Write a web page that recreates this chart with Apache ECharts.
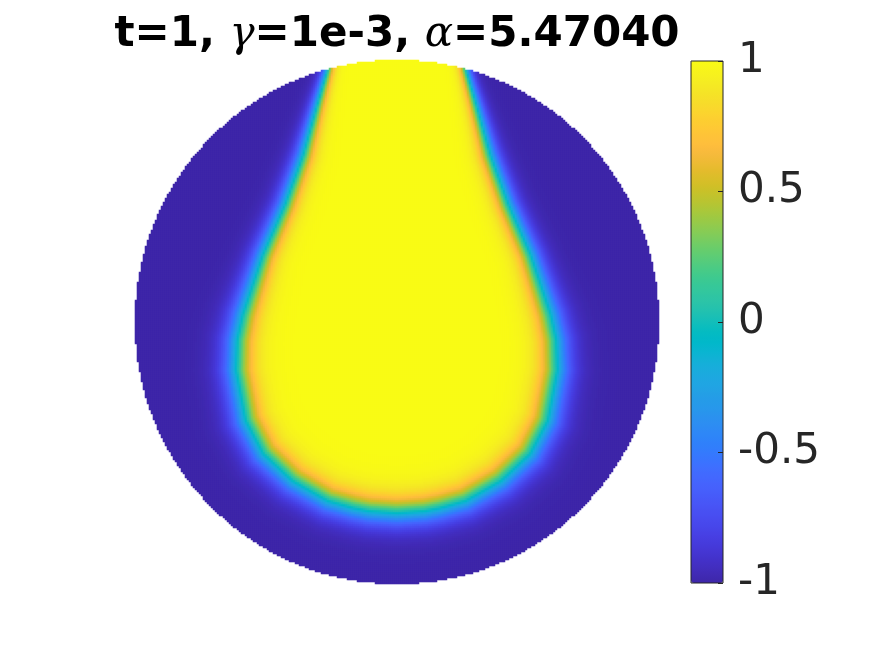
<!DOCTYPE html>
<html><head><meta charset="utf-8">
<script src="https://cdn.jsdelivr.net/npm/echarts@6/dist/echarts.min.js"></script>
<style>html,body{margin:0;padding:0;background:#fff}#c{width:875px;height:656px}</style>
</head><body><div id="c"></div>
<script>
// Phase-field interface (value 0 contour), right half, in unit-disk coordinates
const contourY         = [1.076, 1.000, 0.962, 0.828, 0.637, 0.447, 0.256, 0.027, -0.069, -0.183, -0.374, -0.500, -0.603, -0.679, -0.706, -0.718, -0.725];
const contourHalfWidth = [0.244, 0.256, 0.263, 0.302, 0.355, 0.424, 0.508, 0.584, 0.605, 0.609, 0.573, 0.506, 0.395, 0.261, 0.164, 0.105, 0.000];
// diffuse-interface thickness at each contour level
const interfaceWidth   = [0.023, 0.024, 0.025, 0.032, 0.042, 0.046, 0.050, 0.060, 0.063, 0.065, 0.066, 0.066, 0.065, 0.064, 0.064, 0.064, 0.064];
const valueMin = -1, valueMax = 1;
const colorbarTickStep = 0.5;
const gridCells = 262; // heatmap resolution across the disk diameter

// parula(64) colormap
const parula = [[0.2422,0.1504,0.6603],[0.2504,0.1650,0.7076],[0.2578,0.1818,0.7511],[0.2647,0.1978,0.7952],[0.2706,0.2147,0.8364],[0.2751,0.2342,0.8710],[0.2783,0.2559,0.8991],[0.2803,0.2782,0.9221],[0.2813,0.3006,0.9414],[0.2810,0.3228,0.9579],[0.2795,0.3447,0.9717],[0.2760,0.3667,0.9829],[0.2699,0.3892,0.9906],[0.2602,0.4123,0.9952],[0.2440,0.4358,0.9988],[0.2206,0.4603,0.9973],[0.1963,0.4847,0.9892],[0.1834,0.5074,0.9798],[0.1786,0.5289,0.9682],[0.1764,0.5499,0.9520],[0.1687,0.5703,0.9359],[0.1540,0.5902,0.9218],[0.1460,0.6091,0.9079],[0.1380,0.6276,0.8973],[0.1248,0.6459,0.8883],[0.1113,0.6635,0.8763],[0.0952,0.6798,0.8598],[0.0689,0.6948,0.8394],[0.0297,0.7082,0.8163],[0.0036,0.7203,0.7917],[0.0067,0.7312,0.7660],[0.0433,0.7411,0.7394],[0.0964,0.7500,0.7120],[0.1408,0.7584,0.6842],[0.1717,0.7670,0.6554],[0.1938,0.7758,0.6251],[0.2161,0.7843,0.5923],[0.2470,0.7918,0.5567],[0.2906,0.7973,0.5188],[0.3406,0.8008,0.4789],[0.3909,0.8029,0.4354],[0.4456,0.8024,0.3909],[0.5044,0.7993,0.3480],[0.5616,0.7942,0.3045],[0.6174,0.7876,0.2612],[0.6720,0.7793,0.2227],[0.7242,0.7698,0.1910],[0.7738,0.7598,0.1646],[0.8203,0.7498,0.1535],[0.8634,0.7406,0.1596],[0.9035,0.7330,0.1774],[0.9393,0.7288,0.2100],[0.9728,0.7298,0.2394],[0.9956,0.7434,0.2371],[0.9970,0.7659,0.2199],[0.9952,0.7893,0.2028],[0.9892,0.8136,0.1885],[0.9786,0.8386,0.1766],[0.9676,0.8639,0.1643],[0.9610,0.8890,0.1537],[0.9597,0.9135,0.1423],[0.9628,0.9373,0.1265],[0.9691,0.9606,0.1064],[0.9769,0.9839,0.0805]];
const parulaHex = parula.map(c => '#' + c.map(v => Math.round(v * 255).toString(16).padStart(2, '0')).join(''));

const n = contourY.length;
function phase(x, y) {
  const ax = Math.abs(x);
  let best = Infinity, bw = interfaceWidth[0];
  for (let k = 0; k < n - 1; k++) {
    const x1 = contourHalfWidth[k], y1 = contourY[k], x2 = contourHalfWidth[k + 1], y2 = contourY[k + 1];
    const dx = x2 - x1, dy = y2 - y1;
    let t = ((ax - x1) * dx + (y - y1) * dy) / (dx * dx + dy * dy);
    t = Math.max(0, Math.min(1, t));
    const px = x1 + t * dx, py = y1 + t * dy;
    const d2 = (ax - px) * (ax - px) + (y - py) * (y - py);
    if (d2 < best) { best = d2; bw = interfaceWidth[k] + t * (interfaceWidth[k + 1] - interfaceWidth[k]); }
  }
  let inside = false;
  for (let k = 0; k < n - 1; k++) {
    if (y <= contourY[k] && y >= contourY[k + 1]) {
      const t = (contourY[k] - y) / (contourY[k] - contourY[k + 1]);
      const w = contourHalfWidth[k] + t * (contourHalfWidth[k + 1] - contourHalfWidth[k]);
      inside = ax < w;
      break;
    }
  }
  const d = Math.sqrt(best) * (inside ? 1 : -1);
  return Math.tanh(d / bw);
}

const cats = [];
for (let i = 0; i < gridCells; i++) cats.push(String(i));
const cellData = [];
for (let i = 0; i < gridCells; i++) {
  const x = -1 + (i + 0.5) * 2 / gridCells;
  for (let j = 0; j < gridCells; j++) {
    const y = -1 + (j + 0.5) * 2 / gridCells;
    if (x * x + y * y > 1.0) continue;
    cellData.push([i, j, +phase(x, y).toFixed(4)]);
  }
}

const chart = echarts.init(document.getElementById('c'), null, { renderer: 'canvas' });
chart.setOption({
  animation: false,
  backgroundColor: '#ffffff',
  title: {
    text: '{b|t=1, }{g|γ}{b|=1e-3, }{g|α}{b|=5.47040}',
    left: 392, top: 9, textAlign: 'center',
    textStyle: {
      rich: {
        b: { fontFamily: 'DejaVu Sans', fontWeight: 'bold', fontSize: 42, color: '#000' },
        g: { fontFamily: 'DejaVu Serif', fontStyle: 'italic', fontWeight: 'normal', fontSize: 42, color: '#000' }
      }
    }
  },
  grid: [
    { left: 135, top: 60, width: 524, height: 524, show: false, outerBoundsMode: 'none' },
    { left: 691, top: 61, width: 32, height: 522, show: true, borderColor: '#262626', borderWidth: 1, backgroundColor: 'transparent', outerBoundsMode: 'none', z: 10 }
  ],
  xAxis: [
    { gridIndex: 0, type: 'category', data: cats, show: false },
    { gridIndex: 1, type: 'value', min: 0, max: 1, show: false }
  ],
  yAxis: [
    { gridIndex: 0, type: 'category', data: cats, show: false },
    { gridIndex: 1, type: 'value', min: valueMin, max: valueMax, interval: colorbarTickStep, position: 'right', z: 10,
      axisLine: { show: false, onZero: false },
      axisTick: { show: true, inside: true, length: 5, lineStyle: { color: '#262626', width: 1 } },
      splitLine: { show: false },
      axisLabel: { show: true, margin: 15, fontSize: 42, fontFamily: 'DejaVu Sans', color: '#262626', padding: [6, 0, 0, 0], formatter: v => String(v) }
    }
  ],
  visualMap: {
    type: 'continuous', min: valueMin, max: valueMax, seriesIndex: 0,
    calculable: false, text: null, left: 691, top: 61, itemWidth: 32, itemHeight: 522, padding: 0,
    inRange: { color: parulaHex }, hoverLink: false
  },
  series: [{
    type: 'heatmap', xAxisIndex: 0, yAxisIndex: 0, data: cellData,
    progressive: 0, emphasis: { disabled: true }, silent: true
  }]
});
</script>
</body></html>
